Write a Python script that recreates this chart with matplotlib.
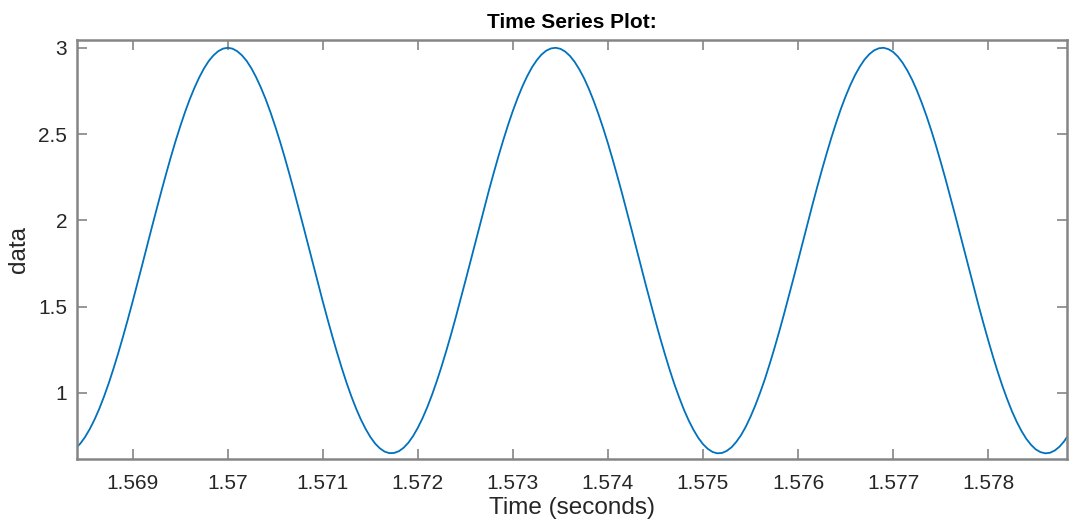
import numpy as np
import matplotlib
matplotlib.use("Agg")
import matplotlib.pyplot as plt

# sampled signal, 0.05 ms step
t_start = 1.5684
t_step = 0.00005
data = [0.679, 0.707, 0.745, 0.792, 0.847, 0.910, 0.981, 1.059, 1.144, 1.234,
        1.329, 1.428, 1.530, 1.635, 1.741, 1.849, 1.956, 2.061, 2.165, 2.266,
        2.364, 2.457, 2.544, 2.626, 2.701, 2.768, 2.828, 2.880, 2.923, 2.956,
        2.980, 2.995, 3.000, 2.995, 2.980, 2.956, 2.923, 2.880, 2.828, 2.768,
        2.701, 2.626, 2.544, 2.457, 2.364, 2.266, 2.165, 2.061, 1.956, 1.849,
        1.741, 1.635, 1.530, 1.428, 1.329, 1.234, 1.144, 1.059, 0.981, 0.910,
        0.847, 0.792, 0.745, 0.707, 0.679, 0.660, 0.651, 0.652, 0.662, 0.682,
        0.711, 0.750, 0.798, 0.854, 0.918, 0.990, 1.069, 1.154, 1.245, 1.340,
        1.440, 1.543, 1.648, 1.754, 1.862, 1.968, 2.074, 2.178, 2.278, 2.375,
        2.467, 2.554, 2.635, 2.709, 2.776, 2.835, 2.886, 2.927, 2.960, 2.983,
        2.996, 3.000, 2.994, 2.978, 2.953, 2.918, 2.874, 2.822, 2.761, 2.692,
        2.616, 2.534, 2.446, 2.352, 2.254, 2.153, 2.049, 1.943, 1.836, 1.729,
        1.622, 1.518, 1.416, 1.317, 1.223, 1.133, 1.049, 0.973, 0.902, 0.840,
        0.786, 0.740, 0.703, 0.676, 0.658, 0.650, 0.652, 0.664, 0.685, 0.716,
        0.755, 0.804, 0.862, 0.927, 1.000, 1.078, 1.165, 1.256, 1.352, 1.452,
        1.555, 1.660, 1.767, 1.874, 1.981, 2.087, 2.190, 2.290, 2.386, 2.478,
        2.564, 2.645, 2.718, 2.784, 2.842, 2.891, 2.932, 2.963, 2.985, 2.997,
        3.000, 2.992, 2.976, 2.949, 2.913, 2.868, 2.815, 2.753, 2.683, 2.607,
        2.524, 2.435, 2.340, 2.242, 2.140, 2.036, 1.930, 1.823, 1.716, 1.610,
        1.505, 1.404, 1.306, 1.212, 1.123, 1.040, 0.964, 0.894, 0.833, 0.780,
        0.735, 0.700, 0.673, 0.657, 0.650, 0.653, 0.666, 0.688, 0.720, 0.761,
        0.811]
time = t_start + t_step * np.arange(len(data))

xticks = [1.569, 1.570, 1.571, 1.572, 1.573, 1.574, 1.575, 1.576, 1.577, 1.578]
xtick_labels = ["1.569", "1.57", "1.571", "1.572", "1.573", "1.574",
                "1.575", "1.576", "1.577", "1.578"]
yticks = [1, 1.5, 2, 2.5, 3]
ytick_labels = ["1", "1.5", "2", "2.5", "3"]

plt.rcParams['font.family'] = ['Liberation Sans', 'DejaVu Sans']
axcol = '#858585'
txtcol = '#262626'

fig = plt.figure(figsize=(10.69, 5.25), dpi=100)
ax = fig.add_axes([0.072, 0.1257, 0.926, 0.7981])

ax.plot(time, data, color='#0072BD', linewidth=1.3)

ax.set_xlim(1.568414, 1.578828)
ax.set_ylim(0.617, 3.045)
ax.set_xticks(xticks)
ax.set_xticklabels(xtick_labels)
ax.set_yticks(yticks)
ax.set_yticklabels(ytick_labels)

ax.tick_params(direction='in', length=7, width=1.2, color=axcol,
               labelcolor=txtcol, labelsize=15, top=True, right=True)
ax.tick_params(axis='x', pad=11)
ax.tick_params(axis='y', pad=7)
for s in ax.spines.values():
    s.set_color(axcol)
    s.set_linewidth(1.8)

ax.set_title("Time Series Plot:", fontsize=15, fontweight='bold', color='black', pad=9)
ax.set_xlabel("Time (seconds)", fontsize=17.5, color=txtcol, labelpad=3)
ax.set_ylabel("data", fontsize=17.5, color=txtcol, labelpad=6)

fig.savefig("out.png", dpi=100)
